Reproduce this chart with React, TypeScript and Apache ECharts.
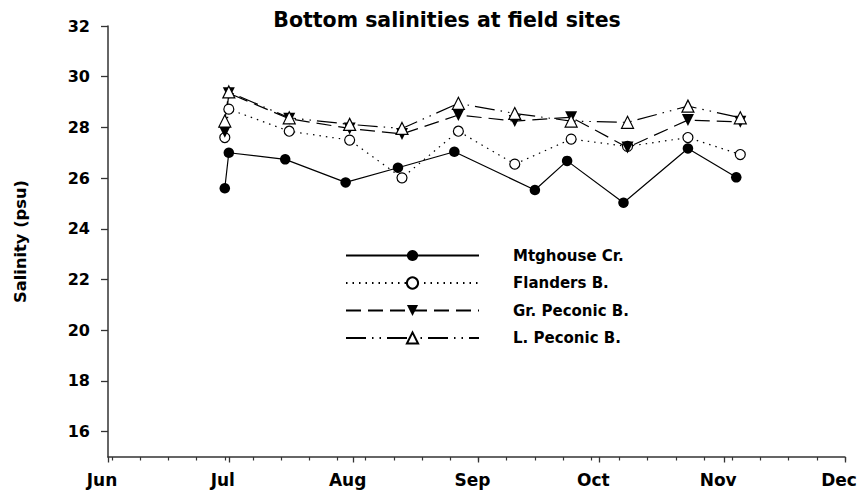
import React, { useEffect, useRef } from "react";
import * as echarts from "echarts";

// Month tick labels (x axis, days counted from Jun 1)
const monthLabels = ["Jun", "Jul", "Aug", "Sep", "Oct", "Nov", "Dec"];
const monthStarts = [0, 30, 61, 92, 122, 153, 183];
const yTicks = [16, 18, 20, 22, 24, 26, 28, 30, 32];

// Sampling dates (MM-DD)
const mtgDates = ["06-30", "07-01", "07-15", "07-30", "08-12", "08-26", "09-15", "09-23", "10-07", "10-23", "11-04"];
const bayDates = ["06-30", "07-01", "07-16", "07-31", "08-13", "08-27", "09-10", "09-24", "10-08", "10-23", "11-05"];

// Bottom salinity (psu)
const mtghouse = [25.6, 27.0, 26.74, 25.83, 26.41, 27.04, 25.53, 26.68, 25.03, 27.17, 26.03];
const flanders = [27.6, 28.72, 27.85, 27.5, 26.01, 27.85, 26.55, 27.54, 27.25, 27.6, 26.93];
const grPeconic = [27.83, 29.35, 28.34, 27.96, 27.74, 28.49, 28.25, 28.4, 27.21, 28.29, 28.22];
const lPeconic = [28.25, 29.4, 28.38, 28.12, 27.96, 28.95, 28.55, 28.25, 28.2, 28.84, 28.38];

const dayOf = (md: string) => {
  const [m, d] = md.split("-").map(Number);
  return (Date.UTC(2001, m - 1, d) - Date.UTC(2001, 5, 1)) / 86400000;
};
const zip = (dates: string[], vals: number[]) => dates.map((d, i) => [dayOf(d), vals[i]]);

const weeklyTicks: number[] = [];
for (let d = 1; d <= 183; d += 7) weeklyTicks.push(d);

const FONT = "DejaVu Sans";

export default function App() {
  const ref = useRef<HTMLDivElement>(null);
  useEffect(() => {
    if (!ref.current) return;
    const chart = echarts.init(ref.current, undefined, { renderer: "svg" });
    const lineBase = { color: "#000", width: 1.2 };
    chart.setOption({
      animation: false,
      backgroundColor: "#fff",
      title: {
        text: "Bottom salinities at field sites",
        left: 442,
        textAlign: "center",
        top: 4,
        textStyle: { fontFamily: FONT, fontWeight: "bold", fontSize: 20.5, color: "#000" },
      },
      grid: { left: 108, right: 15, top: 26, bottom: 39, containLabel: false, outerBoundsMode: "none" },
      legend: {
        orient: "vertical",
        left: 345,
        top: 248,
        padding: 0,
        itemWidth: 133,
        itemHeight: 14,
        itemGap: 12.5,
        textStyle: { fontFamily: FONT, fontWeight: "bold", fontSize: 15, color: "#000", padding: [0, 0, 0, 29] },
        data: ["Mtghouse Cr.", "Flanders B.", "Gr. Peconic B.", "L. Peconic B."],
      },
      xAxis: [
        {
          type: "value",
          min: 0,
          max: 183,
          axisLine: { show: true, lineStyle: { color: "#333", width: 1.5 } },
          axisTick: { show: true, customValues: monthStarts, length: 5.5, lineStyle: { color: "#333", width: 1.3 } },
          axisLabel: {
            show: true,
            customValues: monthStarts,
            formatter: (v: number) => monthLabels[monthStarts.indexOf(v)] ?? "",
            fontFamily: FONT,
            fontWeight: "bold",
            fontSize: 17,
            color: "#000",
            margin: 14,
            padding: [0, 12, 0, 0],
          },
          splitLine: { show: false },
        },
        {
          type: "value",
          min: 0,
          max: 183,
          position: "bottom",
          axisLine: { show: false },
          axisTick: { show: true, customValues: weeklyTicks, length: 3.5, lineStyle: { color: "#333", width: 1.2 } },
          axisLabel: { show: false },
          splitLine: { show: false },
        },
      ],
      yAxis: {
        type: "value",
        min: 15,
        max: 32,
        name: "Salinity (psu)",
        nameLocation: "middle",
        nameGap: 80,
        nameTextStyle: { fontFamily: FONT, fontWeight: "bold", fontSize: 16.3, color: "#000" },
        axisLine: { show: true, lineStyle: { color: "#333", width: 1.5 } },
        axisTick: { show: true, customValues: yTicks, length: 7, lineStyle: { color: "#333", width: 1.3 } },
        axisLabel: {
          customValues: yTicks,
          fontFamily: FONT,
          fontWeight: "bold",
          fontSize: 16,
          color: "#000",
          margin: 18,
        },
        splitLine: { show: false },
      },
      series: [
        {
          name: "Mtghouse Cr.",
          type: "line",
          data: zip(mtgDates, mtghouse),
          symbol: "circle",
          symbolSize: 10.5,
          showAllSymbol: true,
          itemStyle: { color: "#000" },
          lineStyle: { ...lineBase, type: "solid" },
        },
        {
          name: "Flanders B.",
          type: "line",
          data: zip(bayDates, flanders),
          symbol: "circle",
          symbolSize: 10,
          showAllSymbol: true,
          itemStyle: { color: "#fff", borderColor: "#000", borderWidth: 1.2 },
          lineStyle: { ...lineBase, type: [1.5, 5] },
        },
        {
          name: "Gr. Peconic B.",
          type: "line",
          data: zip(bayDates, grPeconic),
          symbol: "triangle",
          symbolRotate: 180,
          symbolSize: 12,
          showAllSymbol: true,
          itemStyle: { color: "#000" },
          lineStyle: { ...lineBase, type: [15, 7] },
        },
        {
          name: "L. Peconic B.",
          type: "line",
          data: zip(bayDates, lPeconic),
          symbol: "triangle",
          symbolSize: 12,
          showAllSymbol: true,
          itemStyle: { color: "#fff", borderColor: "#000", borderWidth: 1.2 },
          lineStyle: { ...lineBase, type: [20, 6, 1.5, 6, 1.5, 6] },
        },
      ],
    });
    return () => chart.dispose();
  }, []);
  return <div ref={ref} style={{ width: 860, height: 496, position: "absolute", left: 0, top: 0 }} />;
}
